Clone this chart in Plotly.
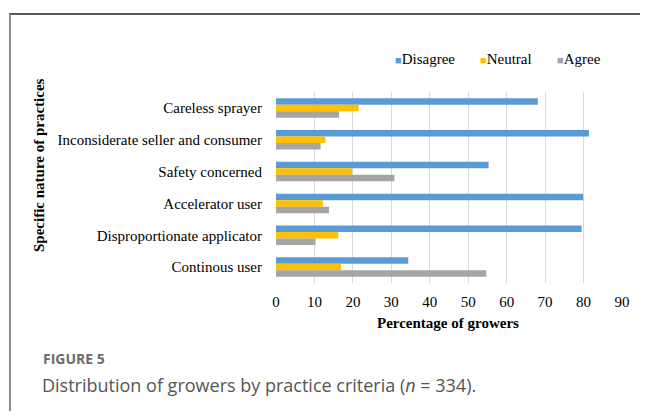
import plotly.graph_objects as go

categories = ["Careless sprayer", "Inconsiderate seller and consumer", "Safety concerned",
              "Accelerator user", "Disproportionate applicator", "Continous user"]
series_names = ["Disagree", "Neutral", "Agree"]
disagree = [68.1, 81.4, 55.3, 79.9, 79.5, 34.4]
neutral = [21.5, 12.9, 19.8, 12.2, 16.2, 16.9]
agree = [16.4, 11.6, 30.8, 13.8, 10.3, 54.7]
colors = ["#5B9BD5", "#FFC000", "#A5A5A5"]
x_ticks = [0, 10, 20, 30, 40, 50, 60, 70, 80, 90]

# page body has an 8px margin; positions below are in screenshot pixels
OFF = 8
W, H = 640, 403
L, R, T, B = 276 - OFF, W - (622 - OFF), 92 - OFF, H - (283 - OFF)
pw, ph = W - L - R, H - T - B

def px(x):
    return (x - OFF - L) / pw

def py(y):
    return (H - B - (y - OFF)) / ph

fig = go.Figure()
for name, vals, col in zip(series_names, [disagree, neutral, agree], colors):
    fig.add_trace(go.Bar(y=categories, x=vals, name=name, orientation="h",
                         marker=dict(color=col, line=dict(width=0)), showlegend=False))

serif = "Liberation Serif, Times New Roman, serif"
fig.update_layout(
    width=W, height=H, margin=dict(l=L, r=R, t=T, b=B),
    paper_bgcolor="white", plot_bgcolor="white",
    barmode="group", bargap=0.39, bargroupgap=0,
    font=dict(family=serif, size=15, color="#000"),
    xaxis=dict(range=[0, 90], tickvals=x_ticks, showgrid=True, gridcolor="#d9d9d9",
               gridwidth=1, zeroline=False, showline=False, ticks="", ticklabelstandoff=8,
               tickfont=dict(size=15, family=serif)),
    yaxis=dict(categoryorder="array", categoryarray=categories, autorange="reversed",
               showgrid=False, zeroline=False, showline=False, ticks="",
               ticklabelstandoff=13, tickfont=dict(size=15, family=serif)),
)

annotations = []
# legend
leg_x = [393, 478, 555]
for name, col, lx in zip(series_names, colors, leg_x):
    annotations.append(dict(
        x=px(lx), y=py(59), xref="paper", yref="paper", xanchor="left", yanchor="middle",
        showarrow=False,
        text=f'<span style="color:{col};font-size:11px">■</span>{name}',
        font=dict(family=serif, size=15, color="#000")))
# axis titles
annotations.append(dict(x=px(448), y=py(323), xref="paper", yref="paper", showarrow=False,
                        xanchor="center", yanchor="middle", text="<b>Percentage of growers</b>",
                        font=dict(family=serif, size=15, color="#000")))
annotations.append(dict(x=px(39), y=py(165), xref="paper", yref="paper", showarrow=False,
                        xanchor="center", yanchor="middle", textangle=-90,
                        text="<b>Specific nature of practices</b>",
                        font=dict(family=serif, size=15, color="#000")))
# caption
annotations.append(dict(x=px(41), y=py(358), xref="paper", yref="paper", showarrow=False,
                        xanchor="left", yanchor="middle", text="<b>FIGURE 5</b>",
                        font=dict(family="Open Sans, sans-serif", size=14, color="#6b6b6b")))
annotations.append(dict(x=px(40), y=py(385), xref="paper", yref="paper", showarrow=False,
                        xanchor="left", yanchor="middle",
                        text="Distribution of growers by practice criteria (<i>n</i> = 334).",
                        font=dict(family="Open Sans, sans-serif", size=18, color="#555555")))
fig.update_layout(annotations=annotations)

shapes = [
    dict(type="line", xref="paper", yref="paper", x0=px(9), x1=px(660), y0=py(14), y1=py(14),
         line=dict(color="#222222", width=1.5)),
    dict(type="line", xref="paper", yref="paper", x0=px(10), x1=px(10), y0=py(14), y1=py(420),
         line=dict(color="#8a8a8a", width=2)),
]
fig.update_layout(shapes=shapes)

fig.write_html("out.html")
